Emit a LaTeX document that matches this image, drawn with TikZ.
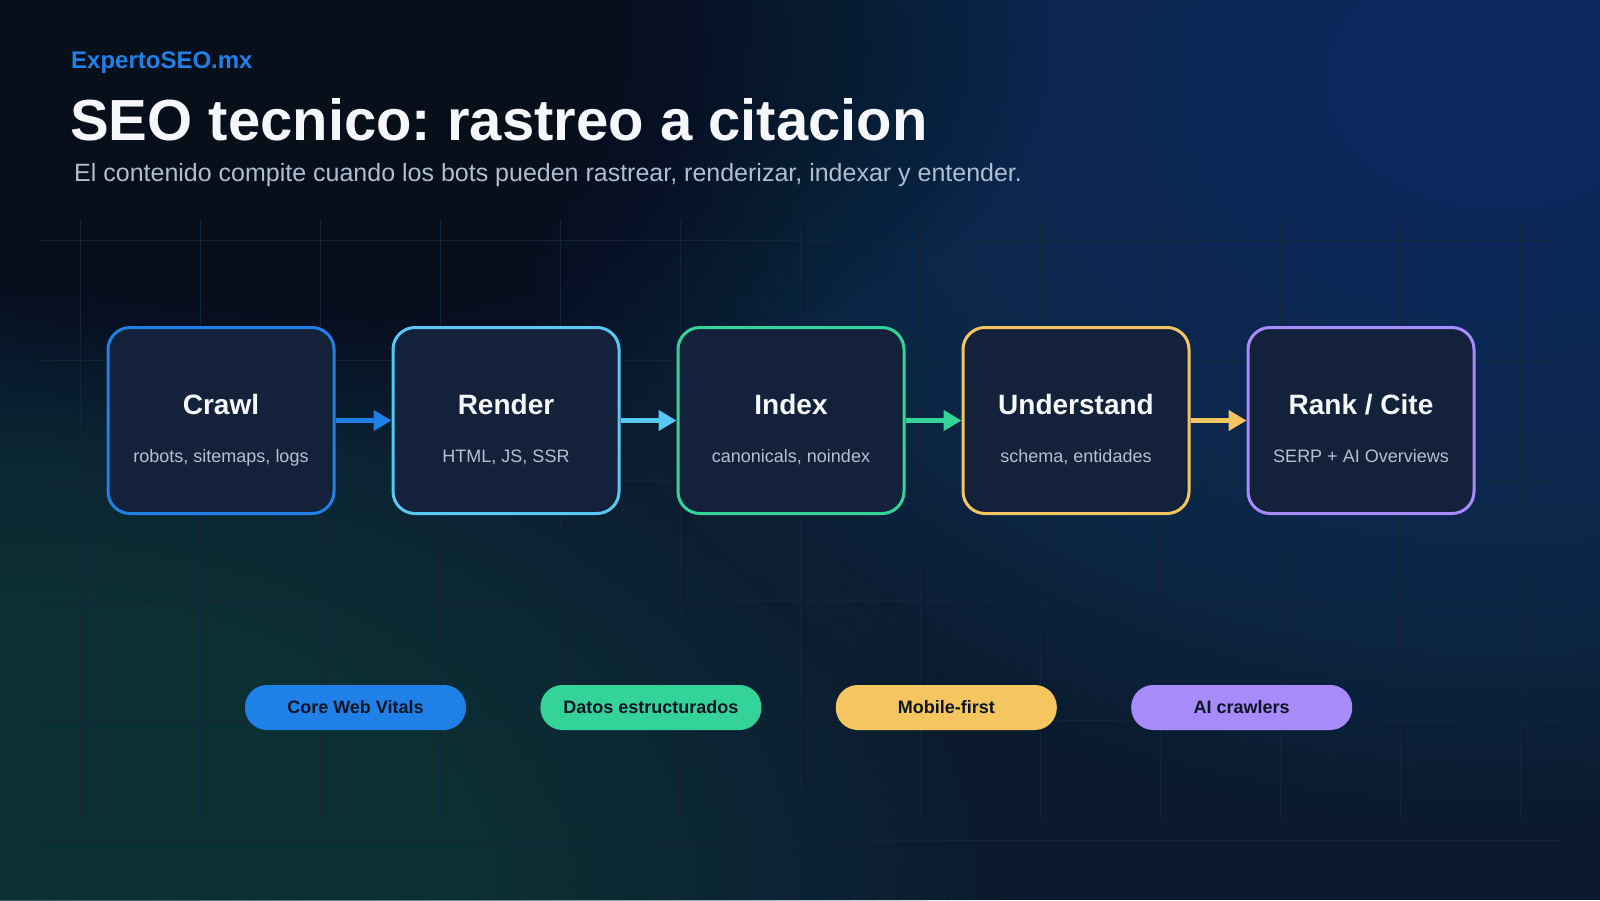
\documentclass[tikz,border=0pt]{standalone}
\usepackage{fontspec}
\setmainfont{Liberation Sans}
\frenchspacing
\usetikzlibrary{positioning,arrows.meta}

\definecolor{bgbase}{HTML}{0B1A2C}
\definecolor{bgdark}{HTML}{070F1A}
\definecolor{glowblue}{HTML}{0E3E72}
\definecolor{glowteal}{HTML}{16474A}
\definecolor{gridcol}{HTML}{12233A}
\definecolor{boxfill}{HTML}{14213A}
\definecolor{crawlblue}{HTML}{1F80E8}
\definecolor{rendercyan}{HTML}{56C8F2}
\definecolor{indexgreen}{HTML}{34D399}
\definecolor{understandgold}{HTML}{F5C660}
\definecolor{rankviolet}{HTML}{A78BFA}
\definecolor{titlewhite}{HTML}{F5F7FA}
\definecolor{subgray}{HTML}{B4C1D2}
\definecolor{ledegray}{HTML}{AFBED1}
\definecolor{tagtext}{HTML}{0B1526}

\tikzset{
  gridline/.style={draw=gridcol, line width=1pt},
  glow/.style={fill=#1, fill opacity=0.045},
  brand/.style={anchor=base west, inner sep=0pt, text=crawlblue, font=\fontsize{24}{28}\selectfont\bfseries},
  headline/.style={anchor=base west, inner sep=0pt, text=titlewhite, font=\fontsize{58}{64}\selectfont\bfseries},
  lede/.style={anchor=base west, inner sep=0pt, text=ledegray, font=\fontsize{25}{29}\selectfont},
  stage/.style={draw=#1, line width=3pt, rounded corners=22pt, fill=boxfill, minimum width=226pt, minimum height=186pt},
  stagetitle/.style={anchor=base, inner sep=0pt, text=titlewhite, font=\fontsize{28}{32}\selectfont\bfseries},
  stagesub/.style={anchor=base, inner sep=0pt, text=subgray, font=\fontsize{18}{22}\selectfont},
  flow/.style={draw=#1, line width=4.5pt, -{Triangle[length=18pt,width=20pt]}},
  tag/.style={fill=#1, rounded corners=22pt, minimum width=221pt, minimum height=45pt, inner sep=0pt, text=tagtext, font=\fontsize{18}{21}\selectfont\bfseries},
}

\begin{document}
\begin{tikzpicture}[x=1pt,y=-1pt]
\useasboundingbox (0,0) rectangle (1600,900);
% background
\begin{scope}
\clip (0,0) rectangle (1600,900);
\fill[bgbase] (0,0) rectangle (1600,900);
\foreach \k in {1,...,40} \fill[glow=glowblue] (1500,80) ellipse ({\k*25} and {\k*18.5});
\foreach \k in {1,...,40} \fill[glow=glowteal] (0,900) ellipse ({\k*25} and {\k*15.5});
\foreach \k in {1,...,40} \fill[glow=bgdark] (250,50) ellipse ({\k*20} and {\k*10});
\end{scope}

% grid
\foreach \gy in {240,360,...,840} \draw[gridline] (40,\gy) -- (1560,\gy);
\foreach \gx in {80,200,...,1520} \draw[gridline] (\gx,220) -- (\gx,820);

% header
\node[brand] (brand) at (71,68) {ExpertoSEO.mx};
\node[headline] (headline) at (70,140) {SEO tecnico: rastreo a citacion};
\node[lede] (lede) at (74,181) {El contenido compite cuando los bots pueden rastrear, renderizar, indexar y entender.};

% stages
\node[stage=crawlblue] (crawl) at (221,420.5) {};
\node[stage=rendercyan] (render) [right=56pt of crawl] {};
\node[stage=indexgreen] (index) [right=56pt of render] {};
\node[stage=understandgold] (understand) [right=56pt of index] {};
\node[stage=rankviolet] (rank) [right=56pt of understand] {};

\node[stagetitle] (crawlT) at ([yshift=6.5pt]crawl.center) {Crawl};
\node[stagesub] (crawlS) at ([yshift=-41.5pt]crawl.center) {robots, sitemaps, logs};
\node[stagetitle] (renderT) at ([yshift=6.5pt]render.center) {Render};
\node[stagesub] (renderS) at ([yshift=-41.5pt]render.center) {HTML, JS, SSR};
\node[stagetitle] (indexT) at ([yshift=6.5pt]index.center) {Index};
\node[stagesub] (indexS) at ([yshift=-41.5pt]index.center) {canonicals, noindex};
\node[stagetitle] (understandT) at ([yshift=6.5pt]understand.center) {Understand};
\node[stagesub] (understandS) at ([yshift=-41.5pt]understand.center) {schema, entidades};
\node[stagetitle] (rankT) at ([yshift=6.5pt]rank.center) {Rank / Cite};
\node[stagesub] (rankS) at ([yshift=-41.5pt]rank.center) {SERP + AI Overviews};

\draw[flow=crawlblue] (crawl) -- (render);
\draw[flow=rendercyan] (render) -- (index);
\draw[flow=indexgreen] (index) -- (understand);
\draw[flow=understandgold] (understand) -- (rank);

% tags
\node[tag=crawlblue] (cwv) at (355.5,707.5) {Core Web Vitals};
\node[tag=indexgreen] (datos) [right=74pt of cwv] {Datos estructurados};
\node[tag=understandgold] (mobile) [right=74pt of datos] {Mobile-first};
\node[tag=rankviolet] (aicrawl) [right=74pt of mobile] {AI crawlers};
\end{tikzpicture}
\end{document}
